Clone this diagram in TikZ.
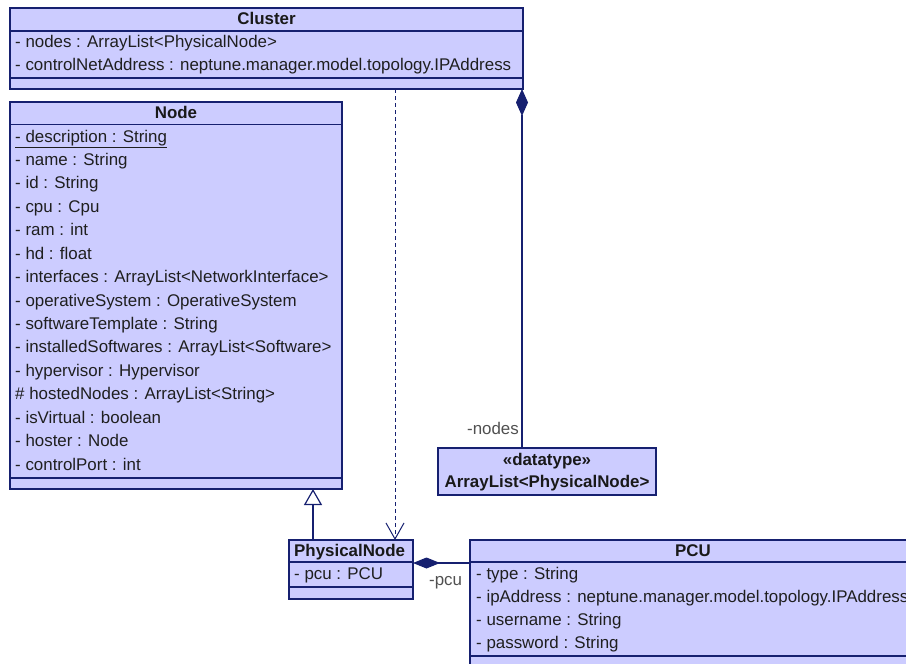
\documentclass[tikz,border=0pt]{standalone}
\usepackage{fontspec}
\setmainfont{Liberation Sans}
\usetikzlibrary{arrows.meta}
\definecolor{umlfill}{RGB}{204,204,255}
\definecolor{umlline}{RGB}{22,32,112}
\definecolor{rolegray}{RGB}{80,80,80}
\begin{document}
\begin{tikzpicture}[x=1pt,y=-1pt,
  classbox/.style={draw=umlline, fill=umlfill, line width=1.2pt, anchor=north west,
    inner sep=0pt, outer sep=0pt},
  ctitle/.style={font=\bfseries\fontsize{16.9}{20}\selectfont, anchor=base, inner sep=0pt,
    text=black!90},
  attr/.style={font=\fontsize{16.9}{20}\selectfont, anchor=base west, inner sep=0pt,
    text=black!88},
  role/.style={font=\fontsize{16.9}{20}\selectfont, inner sep=0pt, text=rolegray},
  sep/.style={draw=umlline, line width=1.2pt},
  link/.style={draw=umlline, line width=1.2pt},
  deplink/.style={draw=umlline, line width=1pt, dash pattern=on 4pt off 3pt}]
\useasboundingbox (0,0) rectangle (906,664);
\clip (0,0) rectangle (906,664);

% ---- Cluster ----
\node[classbox, minimum width=513pt, minimum height=81pt] (cluster) at (10,8) {};
\draw[sep] (10,31) -- (523,31);
\draw[sep] (10,78) -- (523,78);
\node[ctitle] (cluster-title) at (266.5,24) {Cluster};
\node[attr] (cluster-a0) at (15,47) {- nodes : ArrayList<PhysicalNode>};
\node[attr] (cluster-a1) at (15,70) {- controlNetAddress : neptune.manager.model.topology.IPAddress};

% ---- Node ----
\node[classbox, minimum width=332pt, minimum height=387pt] (node) at (10,102) {};
\draw[sep] (10,124.5) -- (342,124.5);
\draw[sep] (10,478) -- (342,478);
\node[ctitle] (node-title) at (176,118) {Node};
\foreach \t [count=\i from 0] in {%
  {\underline{- description : String}},
  {- name : String},
  {- id : String},
  {- cpu : Cpu},
  {- ram : int},
  {- hd : float},
  {- interfaces : ArrayList<NetworkInterface>},
  {- operativeSystem : OperativeSystem},
  {- softwareTemplate : String},
  {- installedSoftwares : ArrayList<Software>},
  {- hypervisor : Hypervisor},
  {\# hostedNodes : ArrayList<String>},
  {- isVirtual : boolean},
  {- hoster : Node},
  {- controlPort : int}}
  \node[attr] (node-a\i) at (15,142+23.43*\i) {\t};

% ---- ArrayList<PhysicalNode> datatype ----
\node[classbox, minimum width=218pt, minimum height=47pt] (dtype) at (438,448) {};
\node[ctitle] (dtype-st) at (547,465) {«datatype»};
\node[ctitle] (dtype-name) at (547,487) {ArrayList<PhysicalNode>};

% ---- PhysicalNode ----
\node[classbox, minimum width=124pt, minimum height=59pt] (pn) at (289,540) {};
\draw[sep] (289,562) -- (413,562);
\draw[sep] (289,587) -- (413,587);
\node[ctitle, anchor=base west] (pn-title) at (294,556) {PhysicalNode};
\node[attr] (pn-a0) at (294,579) {- pcu : PCU};

% ---- PCU ----
\node[classbox, minimum width=446pt, minimum height=140pt] (pcu) at (470,540) {};
\draw[sep] (470,562) -- (916,562);
\draw[sep] (470,656) -- (916,656);
\node[ctitle] (pcu-title) at (693,556) {PCU};
\node[attr] (pcu-a0) at (476,579) {- type : String};
\node[attr] (pcu-a1) at (476,602) {- ipAddress : neptune.manager.model.topology.IPAddress};
\node[attr] (pcu-a2) at (476,625) {- username : String};
\node[attr] (pcu-a3) at (476,648) {- password : String};

% ---- connectors ----
\coordinate (genx) at (313,0);
\coordinate (depx) at (395,0);
\coordinate (compx) at (522,0);
\coordinate (pcuy) at (0,563);

% PhysicalNode generalizes Node
\draw[link, -{Triangle[open, length=16pt, width=18pt]}]
  (genx |- pn.north) -- (genx |- node.south);
% Cluster depends on PhysicalNode
\draw[deplink, -{Straight Barb[length=16pt, width=18pt, line width=1pt]}]
  (depx |- cluster.south) -- (depx |- pn.north);
% Cluster composes ArrayList<PhysicalNode>
\draw[link, {Diamond[length=27pt, width=12pt]}-]
  (compx |- cluster.south) -- (compx |- dtype.north);
% PhysicalNode composes PCU
\draw[link, {Diamond[length=27pt, width=11pt]}-]
  (pn.east |- pcuy) -- (pcu.west |- pcuy);

% role names
\node[role, anchor=base east] (role-nodes) at (519,434) {-nodes};
\node[role, anchor=base west] (role-pcu) at (429,585) {-pcu};
\end{tikzpicture}
\end{document}
